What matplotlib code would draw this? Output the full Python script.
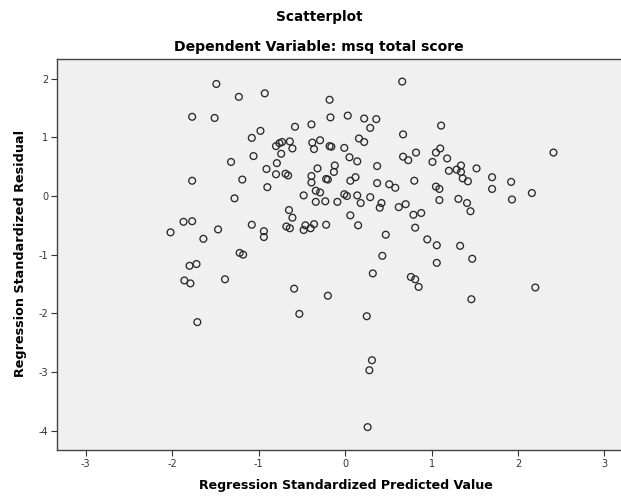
import matplotlib
matplotlib.use("Agg")
import matplotlib.pyplot as plt

# standardized predicted value / standardized residual
pred = [
    -1.49, -1.23, -0.93, -1.77, -1.51, -0.98, -1.08, -0.80, -0.76, -0.73,
    -0.64, -0.61, -0.74, -1.06, -1.32, -0.79, -0.91, -0.80, -0.69, -0.66,
    -1.77, -1.19, -0.90, -1.28, -0.58, -0.39, -0.18, -0.17, 0.03, 0.22,
    0.36, 0.29, 0.66, 0.67, 1.11, -0.38, -0.29, -0.36, -0.18, -0.16,
    -0.01, 0.16, 0.22, 0.05, 0.14, 0.67, 0.73, 0.82, 1.05, 1.10,
    1.01, 1.18, 2.41, 0.37, -0.12, -0.13, -0.32, -0.39, -0.39, -0.22,
    -0.20, 0.12, 0.06, 0.37, 0.51, 0.58, 0.80, 1.20, 1.29, 1.34,
    1.34, 1.36, 1.42, 1.52, 1.05, 1.09, 1.70, 1.70, 1.92, 1.93,
    2.16, -0.48, -0.34, -0.29, -0.01, 0.02, 0.14, 0.29, -0.34, -0.23,
    -0.09, 0.18, 0.42, 0.40, 0.62, 0.70, 1.09, 1.31, 1.41, 1.45,
    -0.65, -0.61, 0.06, 0.15, 0.79, 0.88, 0.81, -0.68, -0.64, -0.46,
    -0.48, -0.40, -0.36, -0.22, -1.87, -1.77, -1.47, -1.08, -0.94, -0.94,
    -2.02, -1.64, 0.47, 0.95, 1.06, 1.33, 0.43, 1.47, 1.06, -1.22,
    -1.18, -1.80, -1.72, -1.86, -1.79, -1.39, 0.32, 0.76, 0.81, 0.85,
    2.20, -0.59, -0.20, 1.46, -0.53, 0.25, -1.71, 0.31, 0.28, 0.26,
]
resid = [
    1.91, 1.69, 1.75, 1.35, 1.33, 1.11, 0.99, 0.85, 0.90, 0.92,
    0.93, 0.81, 0.72, 0.68, 0.58, 0.56, 0.46, 0.37, 0.38, 0.35,
    0.26, 0.28, 0.15, -0.04, 1.18, 1.22, 1.64, 1.34, 1.37, 1.32,
    1.31, 1.16, 1.95, 1.05, 1.20, 0.91, 0.95, 0.80, 0.85, 0.84,
    0.82, 0.98, 0.92, 0.66, 0.59, 0.67, 0.61, 0.74, 0.74, 0.81,
    0.58, 0.64, 0.74, 0.51, 0.52, 0.41, 0.47, 0.34, 0.23, 0.29,
    0.28, 0.32, 0.26, 0.22, 0.20, 0.14, 0.26, 0.43, 0.45, 0.52,
    0.41, 0.30, 0.25, 0.47, 0.16, 0.12, 0.32, 0.12, 0.24, -0.06,
    0.05, 0.01, 0.09, 0.06, 0.03, 0.00, 0.01, -0.02, -0.10, -0.09,
    -0.10, -0.12, -0.12, -0.20, -0.19, -0.14, -0.07, -0.05, -0.12, -0.26,
    -0.24, -0.37, -0.33, -0.50, -0.32, -0.29, -0.54, -0.52, -0.55, -0.50,
    -0.58, -0.55, -0.48, -0.49, -0.44, -0.43, -0.57, -0.49, -0.60, -0.70,
    -0.62, -0.73, -0.66, -0.74, -0.84, -0.85, -1.02, -1.07, -1.14, -0.97,
    -1.00, -1.19, -1.16, -1.44, -1.49, -1.42, -1.32, -1.38, -1.42, -1.55,
    -1.56, -1.58, -1.70, -1.76, -2.01, -2.05, -2.15, -2.80, -2.97, -3.94,
]

x_ticks = [-3, -2, -1, 0, 1, 2, 3]
y_ticks = [-4, -3, -2, -1, 0, 1, 2]

plt.rcParams["axes.unicode_minus"] = False
plt.rcParams["font.family"] = "DejaVu Sans"

W, H = 621, 496
fig = plt.figure(figsize=(W / 100, H / 100), dpi=100)
fig.patch.set_facecolor("white")

# axes run past the right edge, like the cropped original
ax = fig.add_axes([57.3 / W, (H - 450) / H, (633 - 57.3) / W, (450 - 59.3) / H])
ax.set_facecolor("#f0f0f0")
ax.scatter(pred, resid, s=24, facecolors="none", edgecolors="#2a2a2a", linewidths=0.95)

ax.set_xlim(-3.33, 3.33)
ax.set_ylim(-4.33, 2.33)
ax.set_xticks(x_ticks)
ax.set_yticks(y_ticks)
ax.tick_params(direction="out", length=4.5, width=0.8, color="#333333",
               labelsize=7, labelcolor="#333333", pad=2)
for side in ["left", "bottom", "top", "right"]:
    ax.spines[side].set_color("#444444")
    ax.spines[side].set_linewidth(1.0)

fig.text(319 / W, 1 - 16.5 / H, "Scatterplot", ha="center", va="center",
         fontsize=9.8, fontweight="bold")
fig.text(319 / W, 1 - 46.5 / H, "Dependent Variable: msq total score", ha="center",
         va="center", fontsize=10.1, fontweight="bold")
fig.text(346 / W, 1 - 486 / H, "Regression Standardized Predicted Value", ha="center",
         va="center", fontsize=9.1, fontweight="bold")
fig.text(21 / W, 1 - 253.5 / H, "Regression Standardized Residual", ha="center",
         va="center", rotation=90, fontsize=9.2, fontweight="bold")

fig.savefig("out.png", dpi=100)
